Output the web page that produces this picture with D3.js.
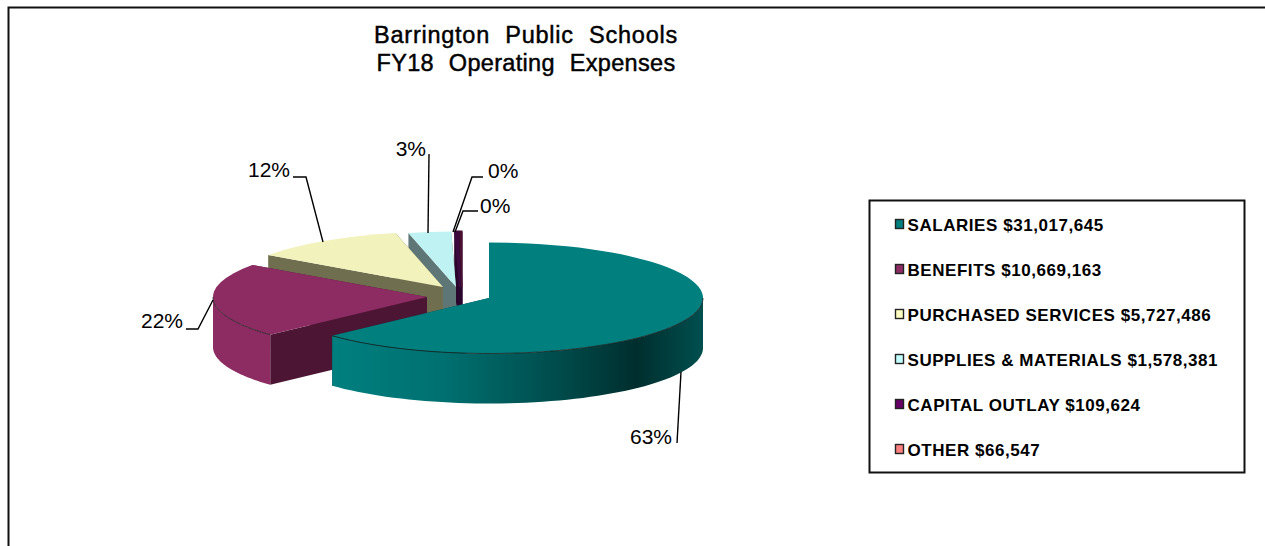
<!DOCTYPE html>
<html>
<head>
<meta charset="utf-8">
<title>Barrington Public Schools FY18 Operating Expenses</title>
<script src="https://cdn.jsdelivr.net/npm/d3@7/dist/d3.min.js"></script>
<style>
  html, body { margin: 0; padding: 0; background: #fff; overflow: hidden; }
  svg { display: block; }
  text { font-family: "Liberation Sans", Arial, sans-serif; fill: #000; }
</style>
</head>
<body>
<svg id="chart" width="1265" height="546"></svg>
<script>
// Budget categories and dollar amounts
const categories = ["SALARIES", "BENEFITS", "PURCHASED SERVICES", "SUPPLIES & MATERIALS", "CAPITAL OUTLAY", "OTHER"];
const amounts = [31017645, 10669163, 5727486, 1578381, 109624, 66547];
const amountLabels = ["$31,017,645", "$10,669,163", "$5,727,486", "$1,578,381", "$109,624", "$66,547"];
const titleLines = ["Barrington Public Schools", "FY18 Operating Expenses"];
const titleTracking = [0.75, 0.32];

// Slice colours: top surface, inner wall, outer wall, legend swatch
const topColors = ["#007f7f", "#8c2c62", "#f2f2bc", "#bff2f2", "#3d0a3f", "#4a1030"];
const wallColors = ["#003f3f", "#4d1534", "#6f6f50", "#5f7676", "#2a052c", "#2a052c"];
const rimColors = ["url(#tealRim)", "#8c2c62", "#f2f2bc", "#bff2f2", "#3d0a3f", "#4a1030"];
const swatchColors = ["#007f7f", "#8c2c62", "#ffffc4", "#c4ffff", "#660066", "#ff8080"];

// Each slice's exploded centre in page pixels
const centres = [[489, 298], [427, 297], [443, 287], [456, 287], [460, 287], [461.5, 287]];
const rx = 214, ry = 55.5, depth = 50;
// Below this share a slice needs an outline to stay visible at all
const slimShare = 0.005;

const svg = d3.select("#chart");
const defs = svg.append("defs");

const tealRim = defs.append("linearGradient").attr("id", "tealRim")
  .attr("gradientUnits", "userSpaceOnUse")
  .attr("x1", 333).attr("x2", 703).attr("y1", 0).attr("y2", 0);
[[0, "#007f7f"], [0.3, "#007070"], [0.62, "#004a4a"], [0.82, "#002e2e"], [1, "#004f4f"]]
  .forEach(([o, c]) => tealRim.append("stop").attr("offset", o).attr("stop-color", c));

// Outer frame (runs off the right-hand and bottom edges of the page)
svg.append("path")
  .attr("d", d3.line()([[8.5, 546], [8.5, 7.5], [1265, 7.5]]))
  .attr("fill", "none").attr("stroke", "#111").attr("stroke-width", 2);

// Title
svg.append("g").selectAll("text").data(titleLines).join("text")
  .attr("x", 526).attr("y", (d, i) => 43 + i * 27.5)
  .attr("text-anchor", "middle")
  .attr("font-size", 23.5)
  .attr("letter-spacing", (d, i) => titleTracking[i])
  .attr("word-spacing", 8)
  .style("stroke", "#000").style("stroke-width", 0.45)
  .text(d => d);

// Pie angles, clockwise from twelve o'clock
const slices = d3.pie().sort(null).value(d => d)(amounts);
const total = d3.sum(amounts);
const arc = d3.arc().innerRadius(0).outerRadius(rx);

// Map a pie angle to an offset on the flattened ellipse
const onRim = a => [rx * Math.sin(a), -ry * Math.cos(a)];
const line = d3.line();

// Points along the part of the rim on the viewer's side of the ellipse
function frontRim(s, c) {
  const start = Math.max(s.startAngle, Math.PI / 2);
  const end = Math.min(s.endAngle, 3 * Math.PI / 2);
  if (end <= start) return null;
  return d3.range(0, 61).map(k => {
    const p = onRim(start + (end - start) * k / 60);
    return [c[0] + p[0], c[1] + p[1]];
  });
}

function rimWall(s, c) {
  const upper = frontRim(s, c);
  if (!upper) return null;
  const lower = upper.slice().reverse().map(p => [p[0], p[1] + depth]);
  return line(upper.concat(lower)) + "Z";
}

// Flat wall running from the slice's centre out to the rim at angle a
function radialWall(a, c) {
  const p = onRim(a);
  const e = [c[0] + p[0], c[1] + p[1]];
  return line([c, e, [e[0], e[1] + depth], [c[0], c[1] + depth]]) + "Z";
}

// Painted back to front: the smallest slices first, the largest last
const pieGroup = svg.append("g");
slices.map((s, i) => ({ s, i })).reverse().forEach(({ s, i }) => {
  const c = centres[i];
  const slim = amounts[i] / total < slimShare;
  const g = pieGroup.append("g");
  [s.startAngle, s.endAngle].forEach(a => {
    const wall = g.append("path").attr("d", radialWall(a, c)).attr("fill", wallColors[i]);
    if (slim) wall.attr("stroke", wallColors[i]).attr("stroke-width", 2);
  });
  const rim = rimWall(s, c);
  if (rim) g.append("path").attr("d", rim).attr("fill", rimColors[i]);
  const top = g.append("path")
    .attr("transform", `translate(${c[0]},${c[1]}) scale(1,${ry / rx})`)
    .attr("d", arc(s))
    .attr("fill", topColors[i]);
  if (slim) {
    top.attr("stroke", topColors[i]).attr("stroke-width", 2)
      .attr("vector-effect", "non-scaling-stroke");
  }
  // Thin dark crease where the top meets the front wall
  if (rim) {
    g.append("path").attr("d", line(frontRim(s, c))).attr("fill", "none")
      .attr("stroke", "#1c1c1c").attr("stroke-width", 0.8);
  }
});

// Percentage labels with their leader lines
const percents = amounts.map(v => d3.format(".0%")(v / total));
const leaderRoutes = [
  [[681, 372], [677, 443]],
  [[213, 300], [198, 329], [186, 329]],
  [[323, 242], [306, 177], [293, 177]],
  [[428, 233], [429, 154]],
  [[455, 232], [463, 211], [478, 211]],
  [[453, 232], [472, 177], [483, 177]]
];
const labelAnchors = [[672, 444], [183, 328], [290, 177], [426, 156], [480, 213], [488, 178]];
const labelEnds = ["end", "end", "end", "end", "start", "start"];

svg.append("g").selectAll("path").data(leaderRoutes).join("path")
  .attr("d", d => line(d)).attr("fill", "none")
  .attr("stroke", "#000").attr("stroke-width", 1.4);

svg.append("g").selectAll("text").data(percents).join("text")
  .attr("x", (d, i) => labelAnchors[i][0])
  .attr("y", (d, i) => labelAnchors[i][1])
  .attr("text-anchor", (d, i) => labelEnds[i])
  .attr("font-size", 21)
  .text(d => d);

// Legend box
const legend = svg.append("g");
legend.append("rect").attr("x", 869.5).attr("y", 200.5).attr("width", 375).attr("height", 272)
  .attr("fill", "#fff").attr("stroke", "#111").attr("stroke-width", 2);

const legendRow = d3.scalePoint().domain(d3.range(categories.length)).range([225, 450]);
const rows = legend.selectAll("g").data(categories).join("g")
  .attr("transform", (d, i) => `translate(0,${legendRow(i)})`);
rows.append("rect").attr("x", 895.5).attr("y", -5.5).attr("width", 8).attr("height", 9)
  .attr("fill", (d, i) => swatchColors[i]).attr("stroke", "#222").attr("stroke-width", 1.4);
rows.append("text").attr("x", 907.5).attr("y", 5.8)
  .attr("font-size", 17).attr("font-weight", "bold")
  .attr("letter-spacing", 0.55)
  .text((d, i) => `${d} ${amountLabels[i]}`);
</script>
</body>
</html>
